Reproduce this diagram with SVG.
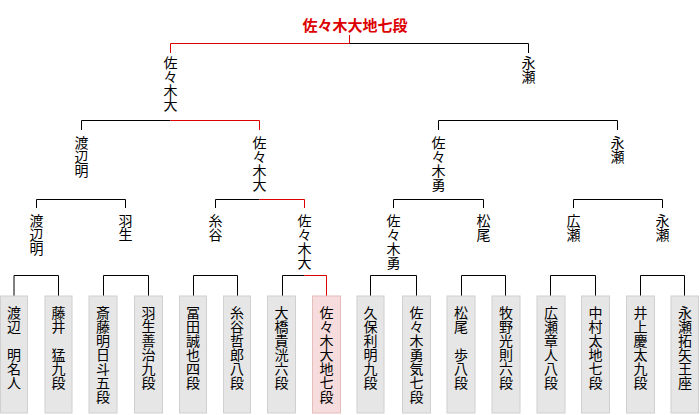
<svg xmlns="http://www.w3.org/2000/svg" width="700" height="415" viewBox="0 0 700 415">
<style>
.t{font-family:"Noto Sans CJK JP","Noto Sans CJK SC",sans-serif;font-size:14px;fill:#000;writing-mode:vertical-rl;text-anchor:start}
.title{font-family:"Noto Sans CJK JP","Noto Sans CJK SC",sans-serif;font-size:15px;font-weight:bold;fill:#dd0000;text-anchor:middle}
.b{fill:#e6e6e6;stroke:#d0d0d0;stroke-width:1}
.w{fill:#f6dcdc;stroke:#e6bcbc;stroke-width:1}
.k{stroke:#000;stroke-width:1;fill:none}
.r{stroke:#dd0000;stroke-width:1;fill:none}
</style>
<rect width="700" height="415" fill="#fff"/>
<g id="connectors">
<path class="r" d="M349.5 35V43.5M170.5 43.5H349.5M170.5 43.5V53"/>
<path class="k" d="M349.5 43.5H528.5V53"/>
<path class="k" d="M81.5 120.5H170.5M81.5 120.5V130"/>
<path class="r" d="M170.5 120.5H259.5V130"/>
<path class="k" d="M438.5 120.5H617.5M438.5 120.5V130M617.5 120.5V130"/>
<path class="k" d="M36.5 199.5H125.5M36.5 199.5V208M125.5 199.5V208"/>
<path class="k" d="M215.5 199.5H259.5M215.5 199.5V208"/>
<path class="r" d="M259.5 199.5H304.5V208"/>
<path class="k" d="M393.5 199.5H483.5M393.5 199.5V208M483.5 199.5V208"/>
<path class="k" d="M573.5 199.5H662.5M573.5 199.5V208M662.5 199.5V208"/>
<path class="k" d="M14 275.5H58.5M14 275.5V296M58.5 275.5V296"/>
<path class="k" d="M103.5 275.5H148.5M103.5 275.5V296M148.5 275.5V296"/>
<path class="k" d="M193.5 275.5H237.5M193.5 275.5V296M237.5 275.5V296"/>
<path class="k" d="M282.5 275.5H304.5M282.5 275.5V296"/>
<path class="r" d="M304.5 275.5H326.5V296"/>
<path class="k" d="M370.5 275.5H416.5M370.5 275.5V296M416.5 275.5V296"/>
<path class="k" d="M461.5 275.5H505.5M461.5 275.5V296M505.5 275.5V296"/>
<path class="k" d="M550.5 275.5H595.5M550.5 275.5V296M595.5 275.5V296"/>
<path class="k" d="M640.5 275.5H684.5M640.5 275.5V296M684.5 275.5V296"/>
</g>
<g id="winner"><text class="title" x="355" y="31">佐々木大地七段</text></g>
<g id="r3-sasaki"><text class="t" x="170.5" y="56">佐々木大</text></g>
<g id="r3-nagase"><text class="t" x="528.5" y="56">永瀬</text></g>
<g id="r2-watanabe"><text class="t" x="81.5" y="136">渡辺明</text></g>
<g id="r2-sasaki"><text class="t" x="259.5" y="136">佐々木大</text></g>
<g id="r2-sasakiyu"><text class="t" x="438.5" y="136">佐々木勇</text></g>
<g id="r2-nagase"><text class="t" x="617.5" y="136">永瀬</text></g>
<g id="r1-watanabe"><text class="t" x="36.5" y="214">渡辺明</text></g>
<g id="r1-habu"><text class="t" x="125.5" y="214">羽生</text></g>
<g id="r1-itodani"><text class="t" x="215.5" y="214">糸谷</text></g>
<g id="r1-sasaki"><text class="t" x="304.5" y="214">佐々木大</text></g>
<g id="r1-sasakiyu"><text class="t" x="393.5" y="214">佐々木勇</text></g>
<g id="r1-matsuo"><text class="t" x="483.5" y="214">松尾</text></g>
<g id="r1-hirose"><text class="t" x="573.5" y="214">広瀬</text></g>
<g id="r1-nagase"><text class="t" x="662.5" y="214">永瀬</text></g>
<g id="p1"><rect class="b" x="0.5" y="296" width="27" height="117"/><text class="t" x="14" y="306">渡辺　明名人</text></g>
<g id="p2"><rect class="b" x="45" y="296" width="27" height="117"/><text class="t" x="58.5" y="306">藤井　猛九段</text></g>
<g id="p3"><rect class="b" x="89" y="296" width="28" height="117"/><text class="t" x="103" y="306">斎藤明日斗五段</text></g>
<g id="p4"><rect class="b" x="134.5" y="296" width="28" height="117"/><text class="t" x="148.5" y="306">羽生善治九段</text></g>
<g id="p5"><rect class="b" x="179.5" y="296" width="27" height="117"/><text class="t" x="193" y="306">冨田誠也四段</text></g>
<g id="p6"><rect class="b" x="223.5" y="296" width="27" height="117"/><text class="t" x="237" y="306">糸谷哲郎八段</text></g>
<g id="p7"><rect class="b" x="267.5" y="296" width="28" height="117"/><text class="t" x="281.5" y="306">大橋貴洸六段</text></g>
<g id="p8"><rect class="w" x="312.5" y="296" width="28" height="117"/><text class="t" x="326.5" y="306">佐々木大地七段</text></g>
<g id="p9"><rect class="b" x="357" y="296" width="27" height="117"/><text class="t" x="370.5" y="306">久保利明九段</text></g>
<g id="p10"><rect class="b" x="402.5" y="296" width="28" height="117"/><text class="t" x="416.5" y="306">佐々木勇気七段</text></g>
<g id="p11"><rect class="b" x="447" y="296" width="28" height="117"/><text class="t" x="461" y="306">松尾　歩八段</text></g>
<g id="p12"><rect class="b" x="492" y="296" width="28" height="117"/><text class="t" x="506" y="306">牧野光則六段</text></g>
<g id="p13"><rect class="b" x="537" y="296" width="28" height="117"/><text class="t" x="551" y="306">広瀬章人八段</text></g>
<g id="p14"><rect class="b" x="581.5" y="296" width="28" height="117"/><text class="t" x="595.5" y="306">中村太地七段</text></g>
<g id="p15"><rect class="b" x="626.5" y="296" width="28" height="117"/><text class="t" x="640.5" y="306">井上慶太九段</text></g>
<g id="p16"><rect class="b" x="671" y="296" width="27.5" height="117"/><text class="t" x="685" y="306">永瀬拓矢王座</text></g>
</svg>
